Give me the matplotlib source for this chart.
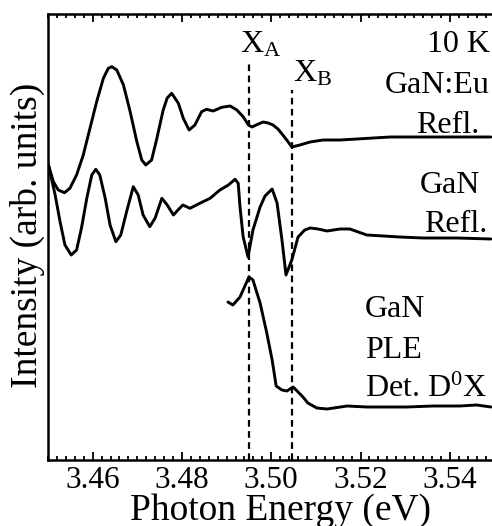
import matplotlib
matplotlib.use("Agg")
import matplotlib.pyplot as plt
from matplotlib.ticker import MultipleLocator

plt.rcParams['font.family'] = ['Liberation Serif', 'DejaVu Serif']
plt.rcParams['mathtext.fontset'] = 'custom'
plt.rcParams['mathtext.rm'] = 'Liberation Serif'
plt.rcParams['mathtext.it'] = 'Liberation Serif:italic'

# ---- data (photon energy in eV, intensity in arbitrary units) ----
eu_refl_x = [3.4501, 3.4512, 3.4523, 3.4537, 3.4549, 3.4564, 3.4579, 3.4594, 3.4609,
             3.4624, 3.4635, 3.4643, 3.4654, 3.4669, 3.4684, 3.4699, 3.4710, 3.4719,
             3.4732, 3.4743, 3.4758, 3.4767, 3.4777, 3.4792, 3.4803, 3.4816, 3.4829,
             3.4844, 3.4855, 3.4870, 3.4889, 3.4908, 3.4923, 3.4937, 3.4949, 3.4957,
             3.4971, 3.4982, 3.4993, 3.5004, 3.5015, 3.5026, 3.5038, 3.5046, 3.5055,
             3.5064, 3.5087, 3.5116, 3.5154, 3.5192, 3.5266, 3.5340, 3.5416, 3.5492]
eu_refl_y = [295, 278.3, 270, 267.3, 271.7, 285, 305, 331.7, 358.3,
             381.7, 391.7, 393.3, 390, 375, 348.3, 318.3, 300, 295,
             300, 320, 350, 362, 366.7, 356.7, 341.7, 330, 335,
             348.3, 350.7, 349, 352.7, 354, 350, 343.3, 335, 333,
             336, 338, 337, 335, 331, 325, 318, 313, 314,
             315, 318, 320, 320, 321, 323, 323, 323, 323]

gan_refl_x = [3.4501, 3.4516, 3.4527, 3.4538, 3.4552, 3.4564, 3.4575, 3.4587, 3.4598,
              3.4607, 3.4616, 3.4628, 3.4639, 3.4652, 3.4663, 3.4676, 3.4691, 3.4702,
              3.4713, 3.4728, 3.4740, 3.4755, 3.4767, 3.4781, 3.4791, 3.4802, 3.4818,
              3.4840, 3.4863, 3.4885, 3.4904, 3.4919, 3.4926, 3.4930, 3.4937, 3.4948,
              3.4959, 3.4975, 3.4986, 3.5002, 3.5013, 3.5024, 3.5033, 3.5046, 3.5060,
              3.5075, 3.5087, 3.5105, 3.5125, 3.5154, 3.5176, 3.5214, 3.5288, 3.5340,
              3.5416, 3.5492]
gan_refl_y = [295, 265, 238.3, 215, 205, 210, 232, 262, 285,
              290.7, 285, 262, 235, 218.3, 225, 248.3, 273.3, 265,
              245, 233.3, 242, 261.7, 255, 245, 250, 255, 251.7,
              256.7, 261.7, 270, 275, 280.7, 276.7, 253.3, 223.3, 203,
              230, 253, 264, 271, 257, 220, 185, 200, 223,
              230, 232, 231, 229, 231, 231, 225, 223, 222,
              222, 221]

ple_x = [3.4903, 3.4914, 3.4930, 3.4950, 3.4959, 3.4975, 3.4990, 3.5002, 3.5011,
         3.5024, 3.5035, 3.5049, 3.5060, 3.5071, 3.5082, 3.5102, 3.5125, 3.5170,
         3.5214, 3.5259, 3.5304, 3.5362, 3.5422, 3.5460, 3.5492]
ple_y = [158, 155, 163, 183, 180, 157, 127, 100, 74,
         70, 69, 73, 68, 63, 57, 52, 51, 54,
         53, 53, 53, 54, 54, 55, 53]

exciton_names = ["X$_\\mathrm{A}$", "X$_\\mathrm{B}$"]
exciton_energy = [3.4951, 3.5046]
exciton_top = [398, 370]

x_ticks = [3.46, 3.48, 3.50, 3.52, 3.54]
x_ticklabels = ["3.46", "3.48", "3.50", "3.52", "3.54"]

fig = plt.figure(figsize=(4.92, 5.26), dpi=100)
ax = fig.add_axes([48/492, 66/526, 446.5/492, 446/526])

lw = 2.1
for xs, ys in [(eu_refl_x, eu_refl_y), (gan_refl_x, gan_refl_y), (ple_x, ple_y)]:
    ax.plot(xs, ys, color='black', lw=lw, solid_joinstyle='round',
            solid_capstyle='round')

for e, top in zip(exciton_energy, exciton_top):
    ax.plot([e, e], [0, top], color='black', lw=1.6, dashes=(3, 2))

ax.set_xlim(3.45, 3.55)
ax.set_ylim(0, 446)
ax.set_xticks(x_ticks)
ax.set_xticklabels(x_ticklabels)
ax.xaxis.set_minor_locator(MultipleLocator(0.002))
ax.set_yticks([])
ax.tick_params(axis='x', which='both', direction='in', top=True, bottom=True,
               labelsize=22.5, pad=4, width=1.3)
ax.tick_params(axis='x', which='major', length=6)
ax.tick_params(axis='x', which='minor', length=3)
for s in ['left', 'bottom', 'top']:
    ax.spines[s].set_linewidth(1.8)
ax.spines['right'].set_visible(False)

ax.set_xlabel("Photon Energy (eV)", fontsize=27)
ax.xaxis.set_label_coords(0.521, -0.1345)
ax.xaxis.label.set_va('baseline')
ax.set_ylabel("Intensity (arb. units)", fontsize=27)
ax.yaxis.set_label_coords(-0.0246, 0.504)
ax.yaxis.label.set_rotation_mode('anchor')
ax.yaxis.label.set_va('baseline')
ax.yaxis.label.set_ha('center')

fs = 23
kw = dict(transform=ax.transAxes, fontsize=fs, va='baseline')
ax.text(0.990, 0.915, "10 K", ha='right', **kw)
ax.text(0.988, 0.823, "GaN:Eu", ha='right', **kw)
ax.text(0.965, 0.733, "Refl.", ha='right', **kw)
ax.text(0.967, 0.599, "GaN", ha='right', **kw)
ax.text(0.985, 0.511, "Refl.", ha='right', **kw)
ax.text(0.710, 0.321, "GaN", ha='left', **kw)
ax.text(0.710, 0.229, "PLE", ha='left', **kw)
ax.text(0.710, 0.141, "Det. D$^\\mathrm{0}$X", ha='left', **kw)
ax.text(0.430, 0.9126, exciton_names[0], ha='left', **kw)
ax.text(0.549, 0.848, exciton_names[1], ha='left', **kw)

fig.savefig("out.png", dpi=100)
